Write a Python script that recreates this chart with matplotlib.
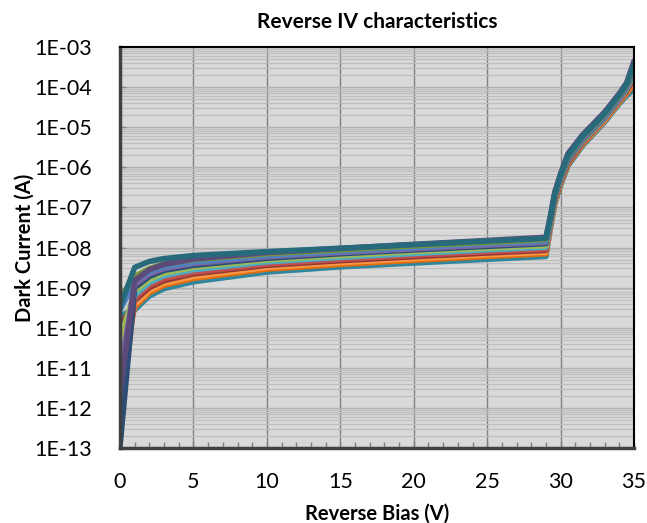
import numpy as np
import matplotlib
matplotlib.use("Agg")
import matplotlib.pyplot as plt
from matplotlib.ticker import FixedLocator, FuncFormatter, LogLocator, NullFormatter

plt.rcParams["font.family"] = ["Lato", "DejaVu Sans"]

# Reverse bias points (V)
bias = [0, 1, 2, 3, 5, 10, 15, 20, 25, 29, 29.3, 29.6, 30, 30.5, 31.5, 33, 34, 34.5, 35]

# Dark current per device (A)
dev_a = [2.3e-12, 1.5e-9, 2.8e-9, 3.8e-9, 5.2e-9, 7.5e-9, 9.5e-9, 1.2e-8, 1.5e-8, 1.8e-8,
         6.0e-8, 2.4e-7, 7.0e-7, 2.2e-6, 6.5e-6, 2.4e-5, 7.0e-5, 1.3e-4, 4.5e-4]
dev_b = [3.3e-10, 3.2e-9, 4.5e-9, 5.3e-9, 6.3e-9, 7.9e-9, 9.6e-9, 1.18e-8, 1.45e-8, 1.7e-8,
         5.5e-8, 2.2e-7, 6.5e-7, 2.0e-6, 6.0e-6, 2.2e-5, 6.5e-5, 1.2e-4, 3.8e-4]
dev_c = [5.5e-10, 1.9e-9, 3.0e-9, 3.9e-9, 5.0e-9, 7.0e-9, 8.8e-9, 1.1e-8, 1.35e-8, 1.6e-8,
         5.2e-8, 2.1e-7, 6.2e-7, 1.9e-6, 5.8e-6, 2.1e-5, 6.2e-5, 1.15e-4, 3.5e-4]
dev_d = [2.7e-10, 1.5e-9, 2.5e-9, 3.3e-9, 4.3e-9, 6.3e-9, 8.0e-9, 1.0e-8, 1.25e-8, 1.45e-8,
         5.0e-8, 2.0e-7, 6.0e-7, 1.8e-6, 5.5e-6, 2.0e-5, 6.0e-5, 1.1e-4, 3.2e-4]
dev_e = [7.5e-12, 1.2e-9, 2.2e-9, 3.0e-9, 4.0e-9, 5.9e-9, 7.5e-9, 9.3e-9, 1.15e-8, 1.35e-8,
         4.8e-8, 1.9e-7, 5.6e-7, 1.7e-6, 5.2e-6, 1.9e-5, 5.6e-5, 1.05e-4, 2.9e-4]
dev_f = [1.1e-13, 1.0e-9, 1.9e-9, 2.7e-9, 3.6e-9, 5.4e-9, 7.0e-9, 8.7e-9, 1.07e-8, 1.25e-8,
         4.6e-8, 1.85e-7, 5.4e-7, 1.6e-6, 5.0e-6, 1.85e-5, 5.4e-5, 1.0e-4, 2.7e-4]
dev_g = [5.0e-11, 8.0e-10, 1.6e-9, 2.3e-9, 3.2e-9, 4.9e-9, 6.3e-9, 7.9e-9, 9.7e-9, 1.12e-8,
         4.4e-8, 1.75e-7, 5.2e-7, 1.55e-6, 4.8e-6, 1.8e-5, 5.2e-5, 9.5e-5, 2.5e-4]
dev_h = [3.0e-11, 6.5e-10, 1.35e-9, 2.0e-9, 2.8e-9, 4.4e-9, 5.7e-9, 7.1e-9, 8.8e-9, 1.02e-8,
         4.2e-8, 1.7e-7, 5.0e-7, 1.5e-6, 4.6e-6, 1.7e-5, 5.0e-5, 9.0e-5, 2.2e-4]
dev_i = [4.2e-13, 5.5e-10, 1.15e-9, 1.7e-9, 2.4e-9, 3.9e-9, 5.1e-9, 6.4e-9, 7.9e-9, 9.2e-9,
         4.0e-8, 1.6e-7, 4.7e-7, 1.4e-6, 4.4e-6, 1.65e-5, 4.8e-5, 8.5e-5, 2.0e-4]
dev_j = [1.0e-10, 4.8e-10, 1.0e-9, 1.5e-9, 2.2e-9, 3.6e-9, 4.7e-9, 5.9e-9, 7.3e-9, 8.5e-9,
         3.8e-8, 1.5e-7, 4.4e-7, 1.3e-6, 4.2e-6, 1.6e-5, 4.6e-5, 8.0e-5, 1.7e-4]
dev_k = [1.9e-11, 3.8e-10, 8.5e-10, 1.3e-9, 1.9e-9, 3.2e-9, 4.2e-9, 5.3e-9, 6.6e-9, 7.7e-9,
         3.6e-8, 1.4e-7, 4.2e-7, 1.25e-6, 4.0e-6, 1.5e-5, 4.4e-5, 7.5e-5, 1.5e-4]
dev_l = [7.0e-12, 3.3e-10, 7.5e-10, 1.15e-9, 1.7e-9, 2.9e-9, 3.8e-9, 4.8e-9, 6.0e-9, 7.0e-9,
         3.4e-8, 1.3e-7, 4.0e-7, 1.2e-6, 3.8e-6, 1.45e-5, 4.2e-5, 7.0e-5, 1.2e-4]
dev_m = [2.0e-10, 2.8e-10, 6.2e-10, 9.5e-10, 1.4e-9, 2.45e-9, 3.3e-9, 4.1e-9, 5.1e-9, 6.0e-9,
         3.0e-8, 1.2e-7, 3.6e-7, 1.1e-6, 3.5e-6, 1.35e-5, 3.9e-5, 6.2e-5, 9.0e-5]

devices = [dev_m, dev_l, dev_k, dev_j, dev_i, dev_h, dev_g, dev_f, dev_e, dev_d, dev_c, dev_a, dev_b]
colors = ["#31859C", "#E46C0A", "#F79646", "#953735", "#C0504D", "#4BACC6", "#9BBB59",
          "#2C4D75", "#8064A2", "#4F81BD", "#77933C", "#5B4A7A", "#276A7C"]

fig = plt.figure(figsize=(6.47, 5.23), dpi=100)
ax = fig.add_axes([0.1855, 0.1434, 0.7945, 0.7666])
ax.set_facecolor("#D9D9D9")

for cur, col in zip(devices, colors):
    ax.plot(bias, cur, color=col, lw=4, solid_joinstyle="round", solid_capstyle="round")

ax.set_yscale("log")
ax.set_xlim(0, 35)
ax.set_ylim(1e-13, 1e-3)

ax.yaxis.set_major_locator(LogLocator(base=10, numticks=20))
ax.yaxis.set_minor_locator(LogLocator(base=10, subs=np.arange(2, 10), numticks=20))
ax.yaxis.set_minor_formatter(NullFormatter())
ax.yaxis.set_major_formatter(FuncFormatter(lambda v, p: "1E-%02d" % round(-np.log10(v))))
ax.xaxis.set_major_locator(FixedLocator([0, 5, 10, 15, 20, 25, 30, 35]))
ax.xaxis.set_minor_locator(FixedLocator(np.arange(0, 36, 1)))

ax.grid(which="major", axis="y", color="#B0B0B0", lw=1.0)
ax.grid(which="minor", axis="y", color="#BEBEBE", lw=0.9)
ax.grid(which="major", axis="x", color="#808080", lw=1.0)
ax.set_axisbelow(True)

ax.tick_params(axis="y", which="major", direction="in", length=4, width=1, color="#808080",
               labelsize=15.5, pad=20)
ax.tick_params(axis="y", which="minor", length=0)
ax.tick_params(axis="x", which="both", direction="in", length=4, width=1, color="#808080",
               labelsize=15.5, pad=17)

for side in ["left", "bottom"]:
    ax.spines[side].set_linewidth(2.5)
    ax.spines[side].set_color("#404040")
for side in ["top", "right"]:
    ax.spines[side].set_linewidth(1.5)
    ax.spines[side].set_color("#000000")

ax.set_title("Reverse IV characteristics", fontsize=15, fontweight="bold", pad=14)
ax.set_xlabel("Reverse Bias (V)", fontsize=14.5, fontweight="bold", labelpad=9)
ax.set_ylabel("Dark Current (A)", fontsize=14.5, fontweight="bold", labelpad=0)

fig.savefig("out.png", dpi=100)
